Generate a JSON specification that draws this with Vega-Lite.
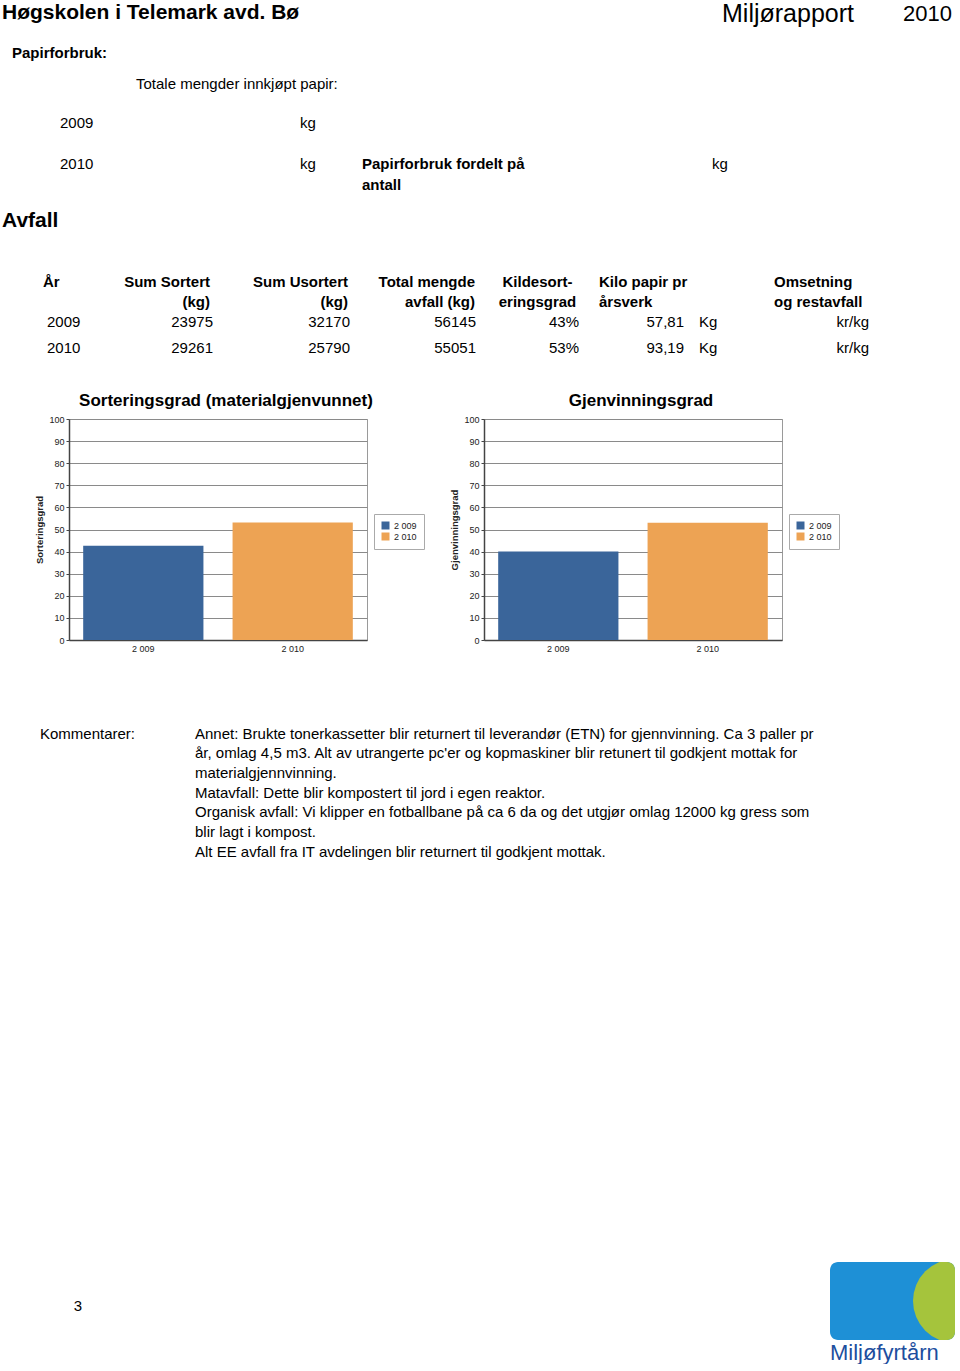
{
  "$schema": "https://vega.github.io/schema/vega-lite/v6.json",
  "padding": 0,
  "background": "white",
  "bounds": "full",
  "spacing": 0,
  "datasets": {
    "waste": [
      {"År": "2009", "Sum Sortert (kg)": "23975", "Sum Usortert (kg)": "32170", "Total mengde avfall (kg)": "56145", "Kildesorteringsgrad": "43%", "Kilo papir pr årsverk": "57,81", "enhet": "Kg", "Omsetning og restavfall": "kr/kg"},
      {"År": "2010", "Sum Sortert (kg)": "29261", "Sum Usortert (kg)": "25790", "Total mengde avfall (kg)": "55051", "Kildesorteringsgrad": "53%", "Kilo papir pr årsverk": "93,19", "enhet": "Kg", "Omsetning og restavfall": "kr/kg"}
    ],
    "rates": [
      {"year": 2009, "Sorteringsgrad": 42.7, "Gjenvinningsgrad": 40.0},
      {"year": 2010, "Sorteringsgrad": 53.2, "Gjenvinningsgrad": 53.0}
    ]
  },
  "vconcat": [
    {
      "width": 960,
      "height": 391,
      "resolve": {"scale": {"x": "independent", "y": "independent"}},
      "layer": [
        {
          "data": {"values": [{"item": "school", "text": "Høgskolen i Telemark avd. Bø"}, {"item": "waste", "text": "Avfall"}]},
          "mark": {"type": "text", "align": "left", "baseline": "alphabetic", "fontSize": 21, "fontWeight": "bold"},
          "encoding": {
            "x": {"field": "item", "type": "nominal", "scale": {"type": "point", "domain": ["school", "waste"], "range": [2, 2], "padding": 0}, "axis": null},
            "y": {"field": "item", "type": "nominal", "scale": {"type": "point", "domain": ["school", "waste"], "range": [18.5, 226.5], "padding": 0}, "axis": null},
            "text": {"field": "text"}
          }
        },
        {
          "data": {"values": [{"item": "report", "text": "Miljørapport"}]},
          "mark": {"type": "text", "align": "left", "baseline": "alphabetic", "fontSize": 25},
          "encoding": {
            "x": {"field": "item", "type": "nominal", "scale": {"type": "point", "domain": ["report"], "range": [722, 722], "padding": 0}, "axis": null},
            "y": {"field": "item", "type": "nominal", "scale": {"type": "point", "domain": ["report"], "range": [22, 22], "padding": 0}, "axis": null},
            "text": {"field": "text"}
          }
        },
        {
          "data": {"values": [{"item": "reportYear", "text": "2010"}]},
          "mark": {"type": "text", "align": "left", "baseline": "alphabetic", "fontSize": 22},
          "encoding": {
            "x": {"field": "item", "type": "nominal", "scale": {"type": "point", "domain": ["reportYear"], "range": [903, 903], "padding": 0}, "axis": null},
            "y": {"field": "item", "type": "nominal", "scale": {"type": "point", "domain": ["reportYear"], "range": [21, 21], "padding": 0}, "axis": null},
            "text": {"field": "text"}
          }
        },
        {
          "data": {"values": [{"item": "paper", "text": "Papirforbruk:"}]},
          "mark": {"type": "text", "align": "left", "baseline": "alphabetic", "fontSize": 15, "fontWeight": "bold"},
          "encoding": {
            "x": {"field": "item", "type": "nominal", "scale": {"type": "point", "domain": ["paper"], "range": [12, 12], "padding": 0}, "axis": null},
            "y": {"field": "item", "type": "nominal", "scale": {"type": "point", "domain": ["paper"], "range": [57.5, 57.5], "padding": 0}, "axis": null},
            "text": {"field": "text"}
          }
        },
        {
          "data": {"values": [{"year": "2009", "unit": "kg"}, {"year": "2010", "unit": "kg"}]},
          "transform": [{"fold": ["year", "unit"], "as": ["key", "value"]}],
          "mark": {"type": "text", "align": "left", "baseline": "alphabetic", "fontSize": 15},
          "encoding": {
            "x": {"field": "key", "type": "nominal", "scale": {"type": "point", "domain": ["year", "unit"], "range": [60, 300], "padding": 0}, "axis": null},
            "y": {"field": "year", "type": "nominal", "scale": {"type": "point", "domain": ["2009", "2010"], "range": [127.5, 168.5], "padding": 0}, "axis": null},
            "text": {"field": "value"}
          }
        },
        {
          "data": {"values": [{"item": "intro", "text": "Totale mengder innkjøpt papir:"}, {"item": "perFTE", "text": "kg"}]},
          "mark": {"type": "text", "align": "left", "baseline": "alphabetic", "fontSize": 15},
          "encoding": {
            "x": {"field": "item", "type": "nominal", "scale": {"type": "point", "domain": ["intro", "perFTE"], "range": [136, 712], "padding": 0}, "axis": null},
            "y": {"field": "item", "type": "nominal", "scale": {"type": "point", "domain": ["intro", "perFTE"], "range": [88.5, 168.5], "padding": 0}, "axis": null},
            "text": {"field": "text"}
          }
        },
        {
          "data": {"values": [{"item": "perFTE", "text": "Papirforbruk fordelt på\nantall"}]},
          "mark": {"type": "text", "align": "left", "baseline": "alphabetic", "fontSize": 15, "fontWeight": "bold", "lineBreak": "\n", "lineHeight": 21},
          "encoding": {
            "x": {"field": "item", "type": "nominal", "scale": {"type": "point", "domain": ["perFTE"], "range": [362, 362], "padding": 0}, "axis": null},
            "y": {"field": "item", "type": "nominal", "scale": {"type": "point", "domain": ["perFTE"], "range": [168.5, 168.5], "padding": 0}, "axis": null},
            "text": {"field": "text"}
          }
        },
        {
          "data": {"values": [{"column": "År", "label": "År"}, {"column": "Kilo papir pr årsverk", "label": "Kilo papir pr\nårsverk"}]},
          "mark": {"type": "text", "align": "left", "baseline": "alphabetic", "fontSize": 15, "fontWeight": "bold", "lineBreak": "\n", "lineHeight": 20},
          "encoding": {
            "x": {"field": "column", "type": "nominal", "scale": {"type": "point", "domain": ["År", "Kilo papir pr årsverk"], "range": [43, 599], "padding": 0}, "axis": null},
            "y": {"field": "column", "type": "nominal", "scale": {"type": "point", "domain": ["År", "Kilo papir pr årsverk"], "range": [286.5, 286.5], "padding": 0}, "axis": null},
            "text": {"field": "label"}
          }
        },
        {
          "data": {"values": [{"column": "Omsetning og restavfall", "label": "Omsetning\nog restavfall"}]},
          "mark": {"type": "text", "align": "left", "baseline": "alphabetic", "fontSize": 15, "fontWeight": "bold", "lineBreak": "\n", "lineHeight": 20},
          "encoding": {
            "x": {"field": "column", "type": "nominal", "scale": {"type": "point", "domain": ["Omsetning og restavfall"], "range": [774, 774], "padding": 0}, "axis": null},
            "y": {"field": "column", "type": "nominal", "scale": {"type": "point", "domain": ["Omsetning og restavfall"], "range": [286.5, 286.5], "padding": 0}, "axis": null},
            "text": {"field": "label"}
          }
        },
        {
          "data": {"values": [{"column": "Sum Sortert (kg)", "label": "Sum Sortert\n(kg)"}, {"column": "Sum Usortert (kg)", "label": "Sum Usortert\n(kg)"}]},
          "mark": {"type": "text", "align": "right", "baseline": "alphabetic", "fontSize": 15, "fontWeight": "bold", "lineBreak": "\n", "lineHeight": 20},
          "encoding": {
            "x": {"field": "column", "type": "nominal", "scale": {"type": "point", "domain": ["Sum Sortert (kg)", "Sum Usortert (kg)"], "range": [210, 348], "padding": 0}, "axis": null},
            "y": {"field": "column", "type": "nominal", "scale": {"type": "point", "domain": ["Sum Sortert (kg)", "Sum Usortert (kg)"], "range": [286.5, 286.5], "padding": 0}, "axis": null},
            "text": {"field": "label"}
          }
        },
        {
          "data": {"values": [{"column": "Total mengde avfall (kg)", "label": "Total mengde\navfall (kg)"}]},
          "mark": {"type": "text", "align": "right", "baseline": "alphabetic", "fontSize": 15, "fontWeight": "bold", "lineBreak": "\n", "lineHeight": 20},
          "encoding": {
            "x": {"field": "column", "type": "nominal", "scale": {"type": "point", "domain": ["Total mengde avfall (kg)"], "range": [475, 475], "padding": 0}, "axis": null},
            "y": {"field": "column", "type": "nominal", "scale": {"type": "point", "domain": ["Total mengde avfall (kg)"], "range": [286.5, 286.5], "padding": 0}, "axis": null},
            "text": {"field": "label"}
          }
        },
        {
          "data": {"values": [{"column": "Kildesorteringsgrad", "label": "Kildesort-\neringsgrad"}]},
          "mark": {"type": "text", "align": "center", "baseline": "alphabetic", "fontSize": 15, "fontWeight": "bold", "lineBreak": "\n", "lineHeight": 20},
          "encoding": {
            "x": {"field": "column", "type": "nominal", "scale": {"type": "point", "domain": ["Kildesorteringsgrad"], "range": [537.5, 537.5], "padding": 0}, "axis": null},
            "y": {"field": "column", "type": "nominal", "scale": {"type": "point", "domain": ["Kildesorteringsgrad"], "range": [286.5, 286.5], "padding": 0}, "axis": null},
            "text": {"field": "label"}
          }
        },
        {
          "data": {"name": "waste"},
          "transform": [{"fold": ["År", "enhet"], "as": ["key", "value"]}],
          "mark": {"type": "text", "align": "left", "baseline": "alphabetic", "fontSize": 15},
          "encoding": {
            "x": {"field": "key", "type": "nominal", "scale": {"type": "point", "domain": ["År", "enhet"], "range": [47, 699], "padding": 0}, "axis": null},
            "y": {"field": "År", "type": "nominal", "scale": {"type": "point", "domain": ["2009", "2010"], "range": [326.5, 352.5], "padding": 0}, "axis": null},
            "text": {"field": "value"}
          }
        },
        {
          "data": {"name": "waste"},
          "transform": [{"fold": ["Sum Sortert (kg)", "Sum Usortert (kg)"], "as": ["key", "value"]}],
          "mark": {"type": "text", "align": "right", "baseline": "alphabetic", "fontSize": 15},
          "encoding": {
            "x": {"field": "key", "type": "nominal", "scale": {"type": "point", "domain": ["Sum Sortert (kg)", "Sum Usortert (kg)"], "range": [213, 350], "padding": 0}, "axis": null},
            "y": {"field": "År", "type": "nominal", "scale": {"type": "point", "domain": ["2009", "2010"], "range": [326.5, 352.5], "padding": 0}, "axis": null},
            "text": {"field": "value"}
          }
        },
        {
          "data": {"name": "waste"},
          "transform": [{"fold": ["Total mengde avfall (kg)", "Kildesorteringsgrad"], "as": ["key", "value"]}],
          "mark": {"type": "text", "align": "right", "baseline": "alphabetic", "fontSize": 15},
          "encoding": {
            "x": {"field": "key", "type": "nominal", "scale": {"type": "point", "domain": ["Total mengde avfall (kg)", "Kildesorteringsgrad"], "range": [476, 579], "padding": 0}, "axis": null},
            "y": {"field": "År", "type": "nominal", "scale": {"type": "point", "domain": ["2009", "2010"], "range": [326.5, 352.5], "padding": 0}, "axis": null},
            "text": {"field": "value"}
          }
        },
        {
          "data": {"name": "waste"},
          "transform": [{"fold": ["Kilo papir pr årsverk", "Omsetning og restavfall"], "as": ["key", "value"]}],
          "mark": {"type": "text", "align": "right", "baseline": "alphabetic", "fontSize": 15},
          "encoding": {
            "x": {"field": "key", "type": "nominal", "scale": {"type": "point", "domain": ["Kilo papir pr årsverk", "Omsetning og restavfall"], "range": [684, 869], "padding": 0}, "axis": null},
            "y": {"field": "År", "type": "nominal", "scale": {"type": "point", "domain": ["2009", "2010"], "range": [326.5, 352.5], "padding": 0}, "axis": null},
            "text": {"field": "value"}
          }
        }
      ]
    },
    {
      "bounds": "flush",
      "spacing": 0,
      "resolve": {"scale": {"color": "independent"}, "legend": {"color": "independent"}},
      "hconcat": [
        {"width": 69, "height": 221, "data": {"values": []}, "mark": "text", "encoding": {}},
        {
          "width": 298,
          "height": 221,
          "data": {"name": "rates"},
          "title": {"text": "Sorteringsgrad (materialgjenvunnet)", "anchor": "middle", "frame": "group", "dx": 8, "offset": -8, "baseline": "alphabetic", "fontSize": 17, "fontWeight": "bold", "color": "black"},
          "view": {"stroke": "#9a9a9a", "strokeWidth": 1},
          "mark": {"type": "bar"},
          "encoding": {
            "x": {"field": "year", "type": "nominal", "scale": {"paddingInner": 0.195, "paddingOuter": 0.095},
                  "axis": {"title": null, "labelAngle": 0, "labelExpr": "replace(format(datum.value, ','), ',', ' ')", "ticks": false, "labelFontSize": 9, "labelPadding": 4, "labelColor": "#222222", "domainColor": "#444444", "domainWidth": 1.5}},
            "y": {"field": "Sorteringsgrad", "type": "quantitative", "scale": {"domain": [0, 100], "nice": false},
                  "axis": {"values": [0, 10, 20, 30, 40, 50, 60, 70, 80, 90, 100], "title": "Sorteringsgrad", "titleFontSize": 9.5, "titleFontWeight": "bold", "titleColor": "#222222", "titlePadding": 4, "labelFontSize": 9, "labelPadding": 2, "labelColor": "#222222", "tickSize": 3, "tickColor": "#444444", "domainColor": "#444444", "domainWidth": 1.5, "grid": true, "gridColor": "#8a8a8a", "gridWidth": 1}},
            "color": {"field": "year", "type": "nominal", "scale": {"domain": [2009, 2010], "range": ["#3a659a", "#eda354"]},
                      "legend": {"orient": "none", "legendX": 305, "legendY": 95, "title": null, "symbolType": "square", "symbolSize": 64, "symbolStrokeWidth": 0, "symbolOpacity": 1, "labelFontSize": 9, "labelColor": "#222222", "labelExpr": "replace(format(datum.value, ','), ',', ' ')", "strokeColor": "#aaaaaa", "fillColor": "white", "padding": 7, "rowPadding": 1, "labelOffset": 4}}
          }
        },
        {"width": 117, "height": 221, "data": {"values": []}, "mark": "text", "encoding": {}},
        {
          "width": 298,
          "height": 221,
          "data": {"name": "rates"},
          "title": {"text": "Gjenvinningsgrad", "anchor": "middle", "frame": "group", "dx": 8, "offset": -8, "baseline": "alphabetic", "fontSize": 17, "fontWeight": "bold", "color": "black"},
          "view": {"stroke": "#9a9a9a", "strokeWidth": 1},
          "mark": {"type": "bar"},
          "encoding": {
            "x": {"field": "year", "type": "nominal", "scale": {"paddingInner": 0.195, "paddingOuter": 0.095},
                  "axis": {"title": null, "labelAngle": 0, "labelExpr": "replace(format(datum.value, ','), ',', ' ')", "ticks": false, "labelFontSize": 9, "labelPadding": 4, "labelColor": "#222222", "domainColor": "#444444", "domainWidth": 1.5}},
            "y": {"field": "Gjenvinningsgrad", "type": "quantitative", "scale": {"domain": [0, 100], "nice": false},
                  "axis": {"values": [0, 10, 20, 30, 40, 50, 60, 70, 80, 90, 100], "title": "Gjenvinningsgrad", "titleFontSize": 9.5, "titleFontWeight": "bold", "titleColor": "#222222", "titlePadding": 4, "labelFontSize": 9, "labelPadding": 2, "labelColor": "#222222", "tickSize": 3, "tickColor": "#444444", "domainColor": "#444444", "domainWidth": 1.5, "grid": true, "gridColor": "#8a8a8a", "gridWidth": 1}},
            "color": {"field": "year", "type": "nominal", "scale": {"domain": [2009, 2010], "range": ["#3a659a", "#eda354"]},
                      "legend": {"orient": "none", "legendX": 305, "legendY": 95, "title": null, "symbolType": "square", "symbolSize": 64, "symbolStrokeWidth": 0, "symbolOpacity": 1, "labelFontSize": 9, "labelColor": "#222222", "labelExpr": "replace(format(datum.value, ','), ',', ' ')", "strokeColor": "#aaaaaa", "fillColor": "white", "padding": 7, "rowPadding": 1, "labelOffset": 4}}
          }
        }
      ]
    },
    {
      "width": 960,
      "height": 608,
      "data": {"values": [
        {"part": "label", "text": "Kommentarer:"},
        {"part": "body", "text": "Annet: Brukte tonerkassetter blir returnert til leverandør (ETN) for gjennvinning. Ca 3 paller pr\når, omlag 4,5 m3. Alt av utrangerte pc'er og kopmaskiner blir retunert til godkjent mottak for\nmaterialgjennvinning.\nMatavfall: Dette blir kompostert til jord i egen reaktor.\nOrganisk avfall: Vi klipper en fotballbane på ca 6 da og det utgjør omlag 12000 kg gress som\nblir lagt i kompost.\nAlt EE avfall fra IT avdelingen blir returnert til godkjent mottak."}
      ]},
      "mark": {"type": "text", "align": "left", "baseline": "alphabetic", "fontSize": 15, "lineBreak": "\n", "lineHeight": 19.67},
      "encoding": {
        "x": {"field": "part", "type": "nominal", "scale": {"type": "point", "domain": ["label", "body"], "range": [40, 195], "padding": 0}, "axis": null},
        "y": {"field": "part", "type": "nominal", "scale": {"type": "point", "domain": ["label", "body"], "range": [84.5, 84.5], "padding": 0}, "axis": null},
        "text": {"field": "text"}
      }
    },
    {
      "bounds": "flush",
      "spacing": 0,
      "hconcat": [
        {
          "width": 830,
          "height": 78,
          "data": {"values": [{"page": "3"}]},
          "mark": {"type": "text", "align": "center", "baseline": "alphabetic", "fontSize": 15},
          "encoding": {
            "x": {"field": "page", "type": "nominal", "scale": {"type": "point", "domain": ["3"], "range": [78, 78], "padding": 0}, "axis": null},
            "y": {"field": "page", "type": "nominal", "scale": {"type": "point", "domain": ["3"], "range": [48.5, 48.5], "padding": 0}, "axis": null},
            "text": {"field": "page"}
          }
        },
        {
          "width": 125,
          "height": 78,
          "view": {"fill": "#1e90d6", "stroke": null, "cornerRadius": 8},
          "title": {"text": "Miljøfyrtårn", "orient": "bottom", "anchor": "start", "offset": 3, "baseline": "top", "fontSize": 22, "fontWeight": "normal", "color": "#1d4e9e"},
          "data": {"values": [{"part": "leaf"}]},
          "mark": {"type": "arc", "theta": 0, "theta2": 6.2832, "radius": 42, "color": "#a5c43c", "clip": true},
          "encoding": {"x": {"value": "width"}}
        }
      ]
    }
  ],
  "config": {
    "view": {"stroke": null},
    "font": "Liberation Sans",
    "text": {"font": "Liberation Sans", "color": "black"},
    "axis": {"labelFont": "Liberation Sans", "titleFont": "Liberation Sans"},
    "legend": {"labelFont": "Liberation Sans"},
    "title": {"font": "Liberation Sans"}
  }
}
